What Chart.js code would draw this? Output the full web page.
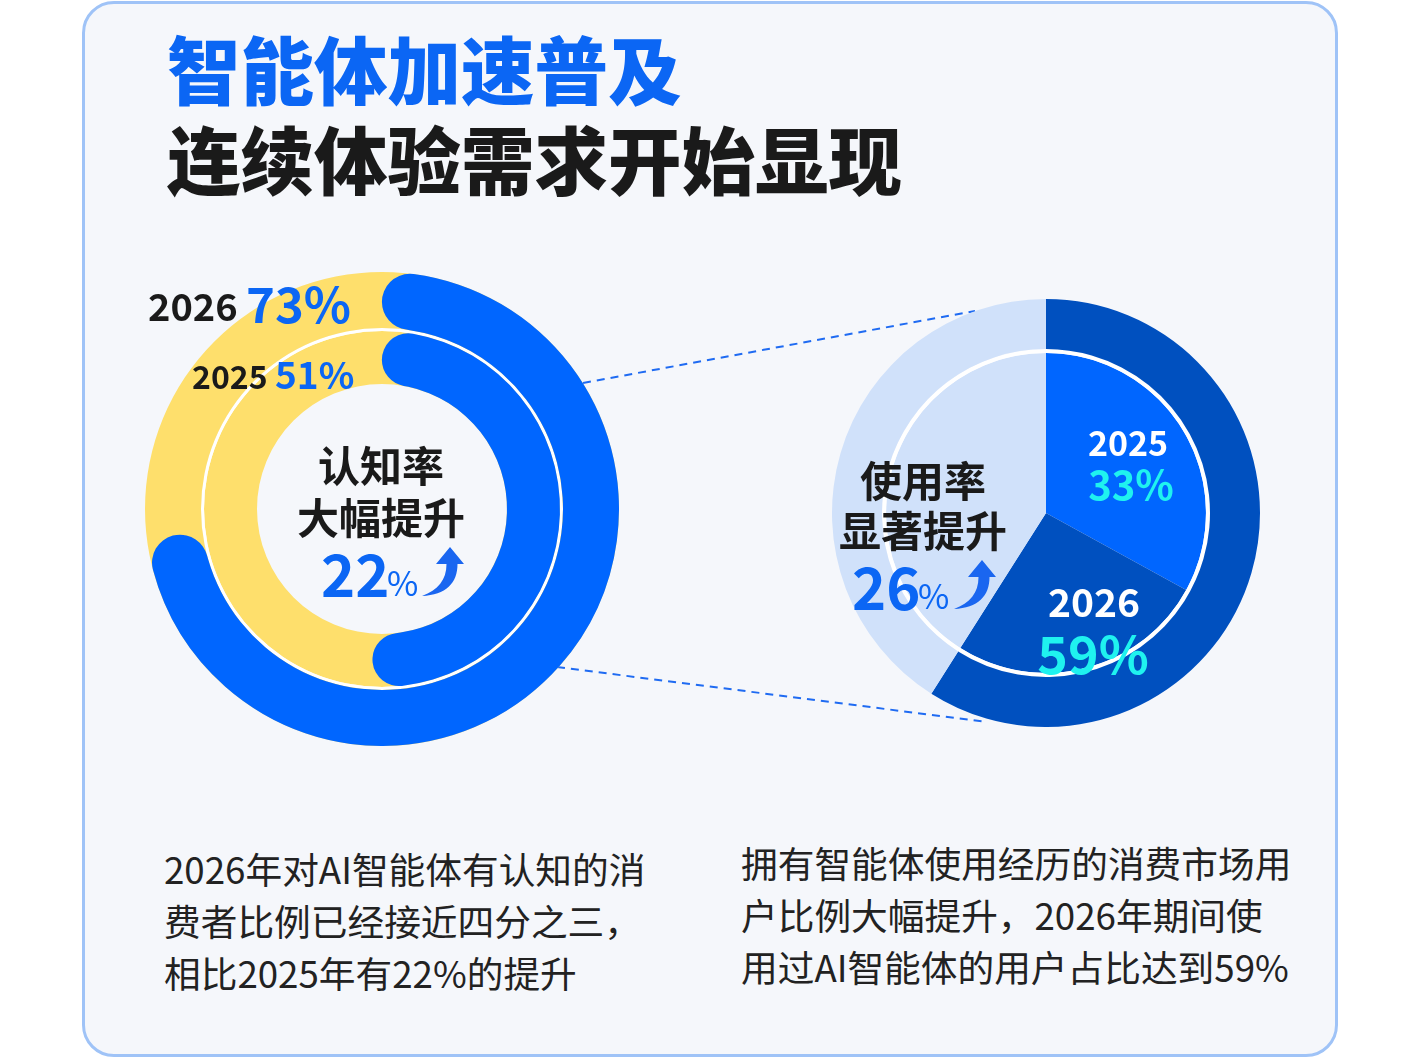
<!DOCTYPE html>
<html>
<head>
<meta charset="utf-8">
<script src="https://cdn.jsdelivr.net/npm/chart.js@4.4.1/dist/chart.umd.min.js"></script>
<style>
  html, body { margin: 0; padding: 0; background: #fff; }
  body { width: 1420px; height: 1057px; position: relative; overflow: hidden;
         font-family: "Noto Sans CJK SC", "Noto Sans", sans-serif; }
  .card { position: absolute; left: 82px; top: 1px; width: 1256px; height: 1056px; box-sizing: border-box;
          border: 3px solid #9fc3f7; border-radius: 32px; background: #f5f7fb; }
  .abs { position: absolute; line-height: 1; white-space: nowrap; }
  .title { font-size: 73.5px; font-weight: 900; left: 167px; }
  .blue { color: #0b66f4; }
  .dark { color: #1a1a1a; }
  .b { font-weight: 700; }
  .cx { transform: translateX(-50%); text-align: center; }
  .cyan { color: #1ff2ef; }
  .white { color: #fff; }
  .para { position: absolute; font-size: 36.7px; line-height: 52px; color: #222; white-space: nowrap; }
  canvas { position: absolute; }
  svg { position: absolute; }
</style>
</head>
<body>
<div class="card"></div>

<div class="abs title blue" style="top:31px">智能体加速普及</div>
<div class="abs title dark" style="top:121px">连续体验需求开始显现</div>

<svg width="1420" height="1057" style="left:0;top:0">
  <line x1="583" y1="383" x2="975" y2="311" stroke="#1f6bf2" stroke-width="2" stroke-dasharray="8 6"/>
  <line x1="557" y1="667" x2="987" y2="722" stroke="#1f6bf2" stroke-width="2" stroke-dasharray="8 6"/>
</svg>

<canvas id="awareBack" width="474" height="474" style="left:145px;top:272px;width:474px;height:474px"></canvas>
<canvas id="awareFront" width="474" height="474" style="left:145px;top:272px;width:474px;height:474px"></canvas>
<canvas id="usage" width="428" height="428" style="left:832px;top:299px;width:428px;height:428px"></canvas>

<div class="abs dark b" style="left:148px;top:286px;font-size:38px">2026</div>
<div class="abs blue b" style="left:246px;top:277px;font-size:49px">73%</div>
<div class="abs dark b" style="left:192px;top:359px;font-size:32px">2025</div>
<div class="abs blue b" style="left:275px;top:355px;font-size:37px">51%</div>

<div class="abs dark b cx" style="left:381px;top:443px;font-size:42px">认知率</div>
<div class="abs dark b cx" style="left:381px;top:495px;font-size:42px">大幅提升</div>
<div class="abs blue b" style="left:321px;top:543px;font-size:58px">22</div>
<div class="abs blue" style="left:387px;top:565px;font-size:34px">%</div>
<svg width="46" height="54" viewBox="0 0 46 54" style="left:419px;top:545px">
  <path d="M31,2 L45,19 L38.5,19 C38.5,38 27,50 3,51 C19,45 27.5,35 27.5,19 L17,19 Z" fill="#1a66f0"/>
</svg>

<div class="abs dark b cx" style="left:923px;top:458px;font-size:42px">使用率</div>
<div class="abs dark b cx" style="left:923px;top:508px;font-size:42px">显著提升</div>
<div class="abs blue b" style="left:852px;top:556px;font-size:58px">26</div>
<div class="abs blue" style="left:918px;top:578px;font-size:34px">%</div>
<svg width="46" height="54" viewBox="0 0 46 54" style="left:951px;top:558px">
  <path d="M31,2 L45,19 L38.5,19 C38.5,38 27,50 3,51 C19,45 27.5,35 27.5,19 L17,19 Z" fill="#1a66f0"/>
</svg>

<div class="abs white b cx" style="left:1128px;top:425px;font-size:34px">2025</div>
<div class="abs cyan b cx" style="left:1131px;top:463px;font-size:40px">33%</div>
<div class="abs white b cx" style="left:1094px;top:581px;font-size:39px">2026</div>
<div class="abs cyan b cx" style="left:1093px;top:626px;font-size:52px">59%</div>

<div class="para" style="left:164px;top:842px">2026年对AI智能体有认知的消<br>费者比例已经接近四分之三，<br>相比2025年有22%的提升</div>
<div class="para" style="left:741px;top:836px">拥有智能体使用经历的消费市场用<br>户比例大幅提升，2026年期间使<br>用过AI智能体的用户占比达到59%</div>

<script>
// awareness (left rings): outer = 2026, inner = 2025
const awareYears = ['2026', '2025'];
const awareValues = [73, 51];
// usage (right pie): 2025 inner wedge, 2026 outer ring
const usageYears = ['2025', '2026'];
const usageValues = [33, 59];

const blue = '#0066ff';
const yellow = '#fedf6c';
const navy = '#0050bf';
const pale = '#d0e1fa';

const baseOpts = {
  responsive: false,
  animation: false,
  events: [],
  layout: { padding: 0 },
  plugins: { legend: { display: false }, tooltip: { enabled: false } }
};

// yellow tracks under the blue arcs
new Chart(document.getElementById('awareBack'), {
  type: 'doughnut',
  data: {
    labels: ['track'],
    datasets: [
      { data: [100], backgroundColor: [yellow], borderWidth: 0, weight: 56 },
      { data: [100], backgroundColor: ['#ffffff'], borderWidth: 0, weight: 3 },
      { data: [100], backgroundColor: [yellow], borderWidth: 0, weight: 53 }
    ]
  },
  options: { ...baseOpts, cutout: 125 }
});

const capped = (ctx) => ctx.dataIndex === 0 ? 30 : 0;

new Chart(document.getElementById('awareFront'), {
  type: 'doughnut',
  data: {
    labels: ['认知', '其他'],
    datasets: [
      { label: awareYears[0], data: [awareValues[0], 100 - awareValues[0]],
        backgroundColor: [blue, 'rgba(0,0,0,0)'], borderWidth: 0, weight: 56, borderRadius: capped },
      { data: [100], backgroundColor: ['rgba(0,0,0,0)'], borderWidth: 0, weight: 3 },
      { label: awareYears[1], data: [awareValues[1], 100 - awareValues[1]],
        backgroundColor: [blue, 'rgba(0,0,0,0)'], borderWidth: 0, weight: 53, borderRadius: capped }
    ]
  },
  options: { ...baseOpts, cutout: 125 }
});

new Chart(document.getElementById('usage'), {
  type: 'doughnut',
  data: {
    labels: ['使用', '其他'],
    datasets: [
      { label: usageYears[1], data: [usageValues[1], 100 - usageValues[1]],
        backgroundColor: [navy, pale], borderWidth: 0, weight: 50 },
      { data: [100], backgroundColor: ['#ffffff'], borderWidth: 0, weight: 4 },
      { label: usageYears[0], data: [usageValues[0], usageValues[1] - usageValues[0], 100 - usageValues[1]],
        backgroundColor: [blue, navy, pale], borderWidth: 0, weight: 160 }
    ]
  },
  options: { ...baseOpts, cutout: 0 }
});
</script>
</body>
</html>
